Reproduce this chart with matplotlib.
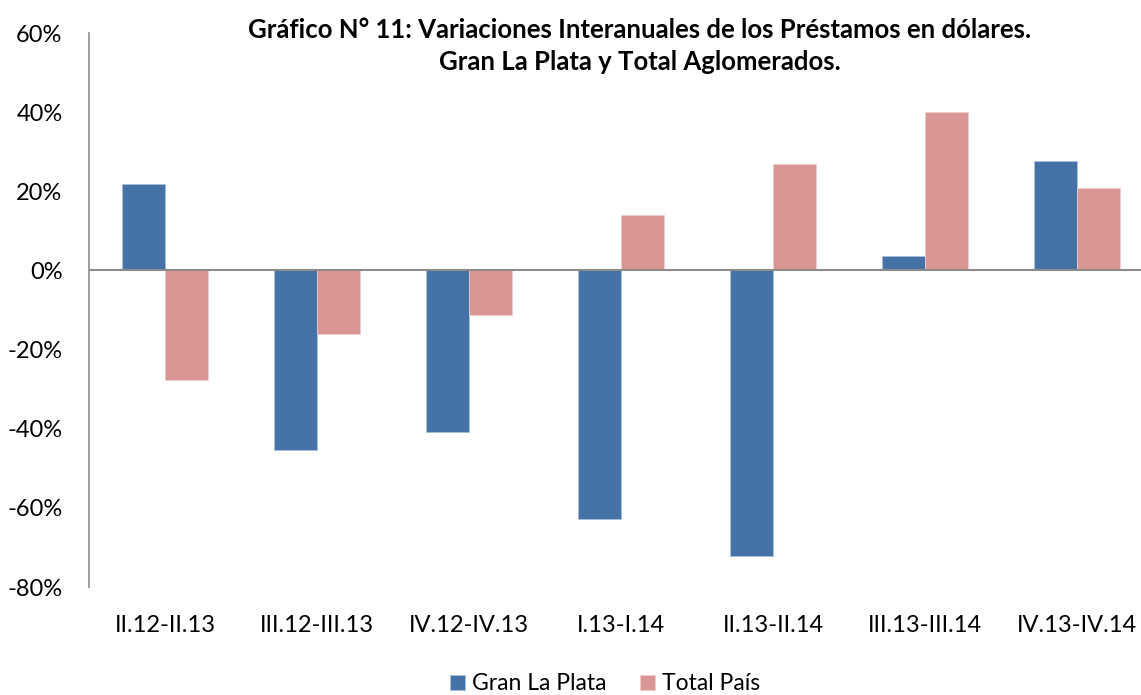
import numpy as np
import matplotlib.pyplot as plt
from matplotlib.ticker import FuncFormatter

# Data (%)
categories = ["II.12-II.13", "III.12-III.13", "IV.12-IV.13", "I.13-I.14",
              "II.13-II.14", "III.13-III.14", "IV.13-IV.14"]
gran_la_plata = [21.8, -45.4, -40.9, -62.9, -72.2, 3.6, 27.6]
total_pais = [-27.7, -16.1, -11.3, 14.0, 26.9, 40.0, 20.8]

plt.rcParams["font.family"] = ["Lato", "DejaVu Sans"]

fig = plt.figure(figsize=(11.41, 6.95), dpi=100)
W, H = 1141, 695
ax = fig.add_axes([89 / W, 1 - 587 / H, (1153 - 89) / W, (587 - 33) / H])

x = np.arange(len(categories))
bw = 0.286
blue = "#4472A7"
pink = "#DA9694"
ax.bar(x - bw / 2, gran_la_plata, bw, color=blue, label="Gran La Plata",
       edgecolor="#a9bfdc", linewidth=0.6)
ax.bar(x + bw / 2, total_pais, bw, color=pink, label="Total País",
       edgecolor="#f0cccb", linewidth=0.6)

ax.set_ylim(-80, 60)
ax.set_xlim(-0.5, len(categories) - 0.5)
ax.set_yticks(np.arange(-80, 61, 20))
ax.yaxis.set_major_formatter(FuncFormatter(lambda v, p: f"{v:.0f}%"))
ax.set_xticks(x)
ax.set_xticklabels(categories)
ax.tick_params(axis="both", length=0, labelsize=17, colors="black")
ax.tick_params(axis="x", pad=20)
ax.tick_params(axis="y", pad=19)

ax.axhline(0, color="#8c8c8c", linewidth=1.5, zorder=3)
for s in ["top", "right", "bottom"]:
    ax.spines[s].set_visible(False)
ax.spines["left"].set_color("#8c8c8c")
ax.spines["left"].set_linewidth(1.2)

fig.text(640 / W, 1 - 46 / H,
         "Gráfico N° 11: Variaciones Interanuales de los Préstamos en dólares.\n"
         "Gran La Plata y Total Aglomerados.",
         ha="center", va="center", fontsize=18.5, fontweight="bold",
         linespacing=1.38)

fig.legend(loc="center", bbox_to_anchor=(605 / W, 1 - 684 / H), ncol=2,
           frameon=False, fontsize=16.5, handlelength=0.65, handleheight=0.65,
           handletextpad=0.3, columnspacing=1.5)

fig.savefig("out.png", dpi=100)
